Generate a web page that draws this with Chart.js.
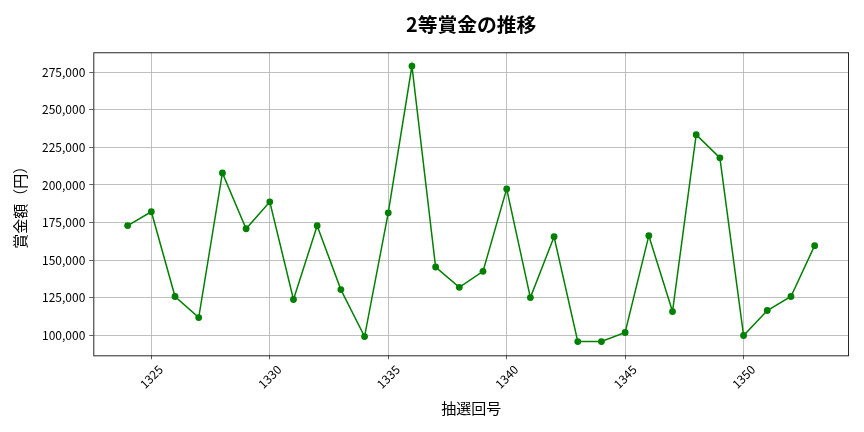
<!DOCTYPE html>
<html>
<head>
<meta charset="utf-8">
<script src="https://cdn.jsdelivr.net/npm/chart.js@4.4.0/dist/chart.umd.min.js"></script>
<style>
  html, body { margin: 0; padding: 0; background: #fff; }
  #wrap { width: 864px; height: 432px; }
</style>
</head>
<body>
<div id="wrap"><canvas id="chart" width="864" height="432"></canvas></div>
<script>
/* DATA */
const draws = [1324, 1325, 1326, 1327, 1328, 1329, 1330, 1331, 1332, 1333,
               1334, 1335, 1336, 1337, 1338, 1339, 1340, 1341, 1342, 1343,
               1344, 1345, 1346, 1347, 1348, 1349, 1350, 1351, 1352, 1353];
const prize = [173000, 182200, 125900, 111900, 208000, 170900, 188800, 123900, 172900, 130500,
               99300, 181500, 279000, 145500, 132000, 142600, 197400, 125200, 165600, 96000,
               96000, 102000, 166300, 115900, 233400, 218000, 100000, 116600, 125900, 159700];
const xTicks = [1325, 1330, 1335, 1340, 1345, 1350];
const yTicks = [100000, 125000, 150000, 175000, 200000, 225000, 250000, 275000];

const FONT = "'Noto Sans CJK JP', 'Noto Sans', sans-serif";

/* border around plot area + rotated x labels */
const framePlugin = {
    id: 'frame',
    afterDraw(chart) {
        const ctx = chart.ctx;
        const a = chart.chartArea;
        ctx.save();
        ctx.strokeStyle = '#262626';
        ctx.lineWidth = 1;
        ctx.strokeRect(a.left + 0.5, a.top + 0.5, a.right - a.left - 1, a.bottom - a.top);

        const xs = chart.scales.x;
        ctx.fillStyle = '#000';
        ctx.font = '12px ' + FONT;
        ctx.textAlign = 'center';
        ctx.textBaseline = 'middle';
        xTicks.forEach(v => {
            ctx.save();
            ctx.translate(xs.getPixelForValue(v), a.bottom + 21.5);
            ctx.rotate(-Math.PI / 4);
            ctx.fillText(String(v), 0, 0);
            ctx.restore();
        });
        ctx.restore();
    }
};

let ctx = document.getElementById("chart").getContext("2d");

let chart = new Chart(ctx, {
    type: 'line',
    data: {
        datasets: [{
            data: draws.map((d, i) => ({ x: d, y: prize[i] })),
            borderColor: '#008000',
            backgroundColor: '#008000',
            borderWidth: 1.5,
            pointRadius: 3.4,
            pointBorderWidth: 0,
            tension: 0
        }]
    },
    options: {
        responsive: false,
        animation: false,
        layout: { padding: { left: 0, right: 15, top: 0, bottom: 0 } },
        plugins: {
            legend: { display: false },
            tooltip: { enabled: false },
            title: {
                display: true,
                text: '2等賞金の推移',
                fullSize: false,
                color: '#000',
                font: { family: FONT, size: 19.8, weight: 'bold', lineHeight: 1.2 },
                padding: { top: 12.4, bottom: 16.1 }
            }
        },
        scales: {
            x: {
                type: 'linear',
                min: 1322.55,
                max: 1354.45,
                afterBuildTicks: s => { s.ticks = xTicks.map(v => ({ value: v })); },
                afterFit: s => { s.height = 76.7; },
                grid: { color: '#b0b0b0', lineWidth: 0.8, tickLength: 4, tickColor: '#333' },
                border: { display: false },
                ticks: { display: false },
                title: {
                    display: true,
                    text: '抽選回号',
                    color: '#000',
                    font: { family: FONT, size: 15, lineHeight: 1.2 },
                    padding: { top: 0, bottom: 15 }
                }
            },
            y: {
                min: 86850,
                max: 288150,
                afterBuildTicks: s => { s.ticks = yTicks.map(v => ({ value: v })); },
                afterFit: s => { s.width = 93.3; },
                grid: { color: '#b0b0b0', lineWidth: 0.8, tickLength: 4, tickColor: '#333' },
                border: { display: false },
                ticks: {
                    color: '#000',
                    padding: 4,
                    font: { family: FONT, size: 12 },
                    callback: v => v.toLocaleString('en-US')
                },
                title: {
                    display: true,
                    text: '賞金額（円）',
                    color: '#000',
                    font: { family: FONT, size: 15, lineHeight: 1.2 },
                    padding: { top: 11, bottom: 0 }
                }
            }
        }
    },
    plugins: [framePlugin]
});
</script>
</body>
</html>
